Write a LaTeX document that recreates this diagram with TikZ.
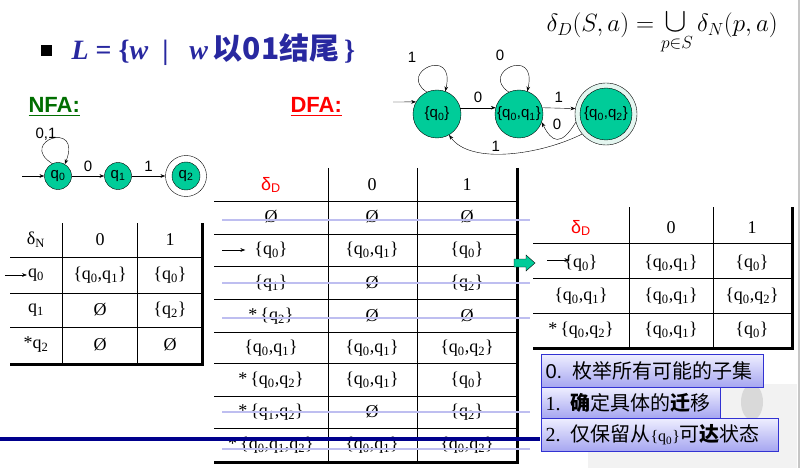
\RequirePackage{fix-cm}
\documentclass[tikz,border=0pt]{standalone}
\usepackage{amsmath}
\usepackage{graphicx}
\usepackage{fontspec}
\setmainfont{Liberation Serif}
\setsansfont{Liberation Sans}
\newfontfamily\cjk{Noto Sans CJK SC}
\usetikzlibrary{arrows.meta}
\definecolor{stategreen}{RGB}{0,204,153}
\definecolor{ringfill}{RGB}{228,246,240}
\definecolor{titleblue}{RGB}{40,40,160}
\definecolor{nfagreen}{RGB}{0,110,0}
\definecolor{strikeblue}{RGB}{190,190,240}
\definecolor{navyline}{RGB}{0,0,140}
\definecolor{boxborder}{RGB}{50,50,210}
\definecolor{boxtop}{RGB}{238,238,255}
\definecolor{boxbottom}{RGB}{165,165,240}
\newcommand{\qsub}[1]{q\textsubscript{#1}}
\newcommand{\sset}[1]{\{#1\}}
\begin{document}
\begin{tikzpicture}[x=1pt,y=-1pt,>=Stealth,
  state/.style={circle,draw,fill=stategreen,inner sep=0pt,font=\sffamily\fontsize{15}{16}\selectfont},
  lbl/.style={font=\sffamily\fontsize{15}{16}\selectfont,inner sep=1pt},
  cell/.style={font=\fontsize{18}{20}\selectfont,inner sep=1pt},
  thick line/.style={line width=3pt},
  strike/.style={strikeblue,line width=2pt},
  stepbox/.style={draw=boxborder,line width=1pt,top color=boxtop,bottom color=boxbottom,
    anchor=north west,inner sep=4pt,align=left,font=\fontsize{20}{22}\selectfont}]
\useasboundingbox (0,0) rectangle (801,468);

% faded picture in the corner
\fill[black!5] (588,384) rectangle (797,468);
\fill[gray!30] (752,402) ellipse (11 and 18);
\draw[gray!45,line width=1.5pt] (799,0) -- (799,468);

% title and formula
\node[fill=black,minimum size=11pt,inner sep=0pt] (bullet) at (46,51) {};
\node[anchor=base west,text=titleblue,font=\fontsize{28}{30}\selectfont\bfseries] (title) at (68,60)
  {{\itshape L} = \{{\itshape w}\ \ |\ \ \ {\itshape w}\,{\cjk\fontsize{30}{32}\selectfont 以01结尾}\,\}};
\node[anchor=base east,inner sep=0pt,font=\fontsize{25}{27}\selectfont] (formula) at (778,32)
  {$\delta_D(S,a)=\mathop{\scalebox{1.35}{$\cup$}}\limits_{p\in S}\delta_N(p,a)$};

\node[anchor=base west,text=nfagreen,font=\sffamily\bfseries\fontsize{22}{24}\selectfont] (nfa) at (25,113) {\underline{NFA:}};
\node[anchor=base west,text=red,font=\sffamily\bfseries\fontsize{22}{24}\selectfont] (dfa) at (287,113) {\underline{DFA:}};

% NFA
\node[state,minimum size=27pt] (q0) at (58,176) {\qsub{0}};
\node[state,minimum size=27pt] (q1) at (118,176) {\qsub{1}};
\node[circle,draw,minimum size=41pt] (q2o) at (186,176) {};
\node[state,minimum size=28pt] (q2) at (186,176) {\qsub{2}};
\coordinate (nstart) at (22,176);
\draw[->] (nstart) -- (q0);
\draw[->] (q0) -- node[lbl,above=3pt] {0} (q1);
\draw[->] (q1) -- node[lbl,above=3pt] {1} (q2o);
\draw[->] (q0.115) .. controls +(-35,-22) and +(18,-45) .. (q0.60);
\node[lbl] (loopn) at (46,134) {0,1};

% DFA
\node[state,minimum size=48pt] (d0) at (437,114) {\sset{\qsub{0}}};
\node[state,minimum size=48pt] (d01) at (519,114) {\sset{\qsub{0},\qsub{1}}};
\node[circle,draw,fill=ringfill,minimum size=62pt] (d02o) at (606,114) {};
\node[state,minimum size=52pt] (d02) at (606,114) {\sset{\qsub{0},\qsub{2}}};
\coordinate (dstart) at (393,102);
\draw[->] (dstart) -- (d0.150);
\draw[->] (d0.15) -- node[lbl,above=4pt] {0} (d01.165);
\draw[->] (d01.15) -- node[lbl,above=4pt] {1} (d02o.170);
\draw[->] (d0.115) .. controls +(-30,-20) and +(11,-46) .. (d0.70);
\node[lbl] (loop0) at (412,57) {1};
\draw[->] (d01.115) .. controls +(-30,-20) and +(11,-46) .. (d01.70);
\node[lbl] (loop01) at (500,55) {0};
\draw[->] (d02o.195) .. controls +(-15,25) and +(10,20) .. (d01.-20) node[lbl,pos=0.5,above=8pt] {0};
\draw[->] (d02o.220) .. controls +(-42,21) and +(21,30) .. (d0.-60) node[lbl,pos=0.58,above=1pt] {1};

% NFA table
\foreach \y in {257,293,327} \draw (10,\y) -- (202,\y);
\foreach \x in {62,137} \draw (\x,223) -- (\x,364);
\draw[thick line] (10,364) -- (202,364);
\draw[thick line] (202,223) -- (202,365.5);
\foreach \y/\a/\b/\c [count=\i from 0] in {240/{δ\textsubscript{N}}/0/1,
    275/{\qsub{0}}/{\sset{\qsub{0},\qsub{1}}}/{\sset{\qsub{0}}},
    310/{\qsub{1}}/Ø/{\sset{\qsub{2}}},
    345/{*\qsub{2}}/Ø/Ø} {
  \node[cell] (n\i-a) at (36,\y) {\a};
  \node[cell] (n\i-b) at (100,\y) {\b};
  \node[cell] (n\i-c) at (170,\y) {\c};
}
\draw[->] ([xshift=-22pt]n1-a.west) -- (n1-a.west);

% DFA table, all subsets
\foreach \y in {201,234,266,299,332,363,396,428} \draw (214,\y) -- (517,\y);
\foreach \x in {328,417} \draw (\x,168) -- (\x,462);
\draw[thick line] (214,462) -- (517,462);
\draw[thick line] (517,168) -- (517,463.5);
\foreach \y/\a/\b/\c [count=\i from 0] in {185/{\textcolor{red}{\sffamily δ\textsubscript{D}}}/0/1,
    217/Ø/Ø/Ø,
    250/{\sset{\qsub{0}}}/{\sset{\qsub{0},\qsub{1}}}/{\sset{\qsub{0}}},
    283/{\sset{\qsub{1}}}/Ø/{\sset{\qsub{2}}},
    316/{*\,\sset{\qsub{2}}}/Ø/Ø,
    348/{\sset{\qsub{0},\qsub{1}}}/{\sset{\qsub{0},\qsub{1}}}/{\sset{\qsub{0},\qsub{2}}},
    380/{*\,\sset{\qsub{0},\qsub{2}}}/{\sset{\qsub{0},\qsub{1}}}/{\sset{\qsub{0}}},
    412/{*\,\sset{\qsub{1},\qsub{2}}}/Ø/{\sset{\qsub{2}}},
    445/{*\,\sset{\qsub{0},\qsub{1},\qsub{2}}}/{\sset{\qsub{0},\qsub{1}}}/{\sset{\qsub{0},\qsub{2}}}} {
  \node[cell] (m\i-a) at (271,\y) {\a};
  \node[cell] (m\i-b) at (372,\y) {\b};
  \node[cell] (m\i-c) at (467,\y) {\c};
}
\draw[->] ([xshift=-31pt]m2-a.west) -- ([xshift=-8pt]m2-a.west);
\foreach \y in {220,283,318,412,449} \draw[strike] (222,\y) -- (530,\y);
\draw[navyline,line width=3.5pt] (0,439) -- (540,439);

% green arrow
\draw[fill=stategreen] (514,259) -- (526,259) -- (526,255) -- (535,263) -- (526,271) -- (526,267) -- (514,267) -- cycle;

% reachable part
\foreach \y in {243,278,313} \draw (533,\y) -- (792,\y);
\foreach \x in {629,713} \draw (\x,207) -- (\x,348);
\draw[thick line] (533,348) -- (792,348);
\draw[thick line] (792,207) -- (792,349.5);
\foreach \y/\a/\b/\c [count=\i from 0] in {228/{\textcolor{red}{\sffamily δ\textsubscript{D}}}/0/1,
    263/{\sset{\qsub{0}}}/{\sset{\qsub{0},\qsub{1}}}/{\sset{\qsub{0}}},
    296/{\sset{\qsub{0},\qsub{1}}}/{\sset{\qsub{0},\qsub{1}}}/{\sset{\qsub{0},\qsub{2}}},
    330/{*\,\sset{\qsub{0},\qsub{2}}}/{\sset{\qsub{0},\qsub{1}}}/{\sset{\qsub{0}}}} {
  \node[cell] (r\i-a) at (581,\y) {\a};
  \node[cell] (r\i-b) at (671,\y) {\b};
  \node[cell] (r\i-c) at (752,\y) {\c};
}
\draw[->] ([xshift=-16pt,yshift=3pt]r1-a.west) -- ([xshift=6pt,yshift=3pt]r1-a.west);

% steps
\node[stepbox,minimum width=222pt,minimum height=33pt,text width=214pt] (s0) at (541,354)
  {{\sffamily 0.} {\cjk 枚举所有可能的子集}};
\node[stepbox,minimum width=179pt,minimum height=31pt,text width=171pt] (s1) at (541,387)
  {1. {\cjk\bfseries 确}{\cjk 定具体的}{\cjk\bfseries 迁}{\cjk 移}};
\node[stepbox,minimum width=237pt,minimum height=33pt,text width=229pt] (s2) at (541,418)
  {2. {\cjk 仅保留从}{\fontsize{16}{18}\selectfont\sset{\qsub{0}}}{\cjk 可}{\cjk\bfseries 达}{\cjk 状态}};

\end{tikzpicture}
\end{document}
